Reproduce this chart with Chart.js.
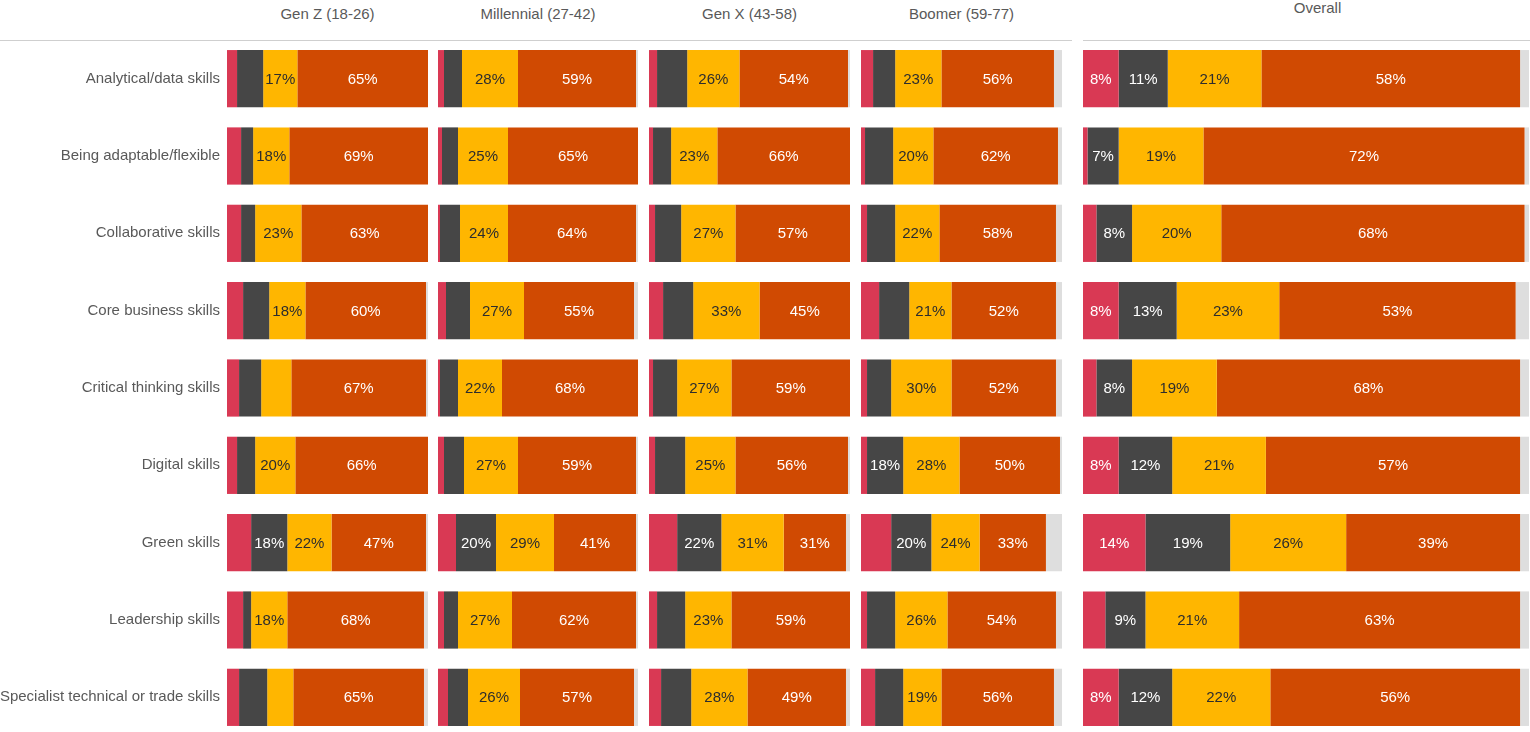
<!DOCTYPE html>
<html lang="en">
<head>
    <meta charset="UTF-8">
    <title>Skills importance by generation</title>
    <style>
        html, body {
            margin: 0;
            padding: 0;
            width: 1530px;
            height: 732px;
            overflow: hidden;
            background: #fff;
            font-family: "Liberation Sans", Arial, sans-serif;
        }
        .head {
            position: absolute;
            font-size: 15px;
            color: #595959;
            text-align: center;
            white-space: nowrap;
        }
        .rule {
            position: absolute;
            top: 40px;
            height: 0;
            border-top: 1.5px solid #cfcfcf;
        }
        .panel {
            position: absolute;
            top: 40px;
            height: 696px;
        }
    </style>
</head>
<body>
    <!-- column headers -->
    <div class="head" style="left:227px;width:201px;top:5px;">Gen Z (18-26)</div>
    <div class="head" style="left:438px;width:200px;top:5px;">Millennial (27-42)</div>
    <div class="head" style="left:649px;width:201px;top:5px;">Gen X (43-58)</div>
    <div class="head" style="left:861px;width:201px;top:5px;">Boomer (59-77)</div>
    <div class="head" style="left:1105px;width:425px;top:-1px;">Overall</div>
    <div class="rule" style="left:0;width:1072px;"></div>
    <div class="rule" style="left:1083px;width:447px;"></div>

    <!-- panels -->
    <div class="panel" style="left:0;width:428px;"><canvas id="genZ"></canvas></div>
    <div class="panel" style="left:438px;width:200px;"><canvas id="millennial"></canvas></div>
    <div class="panel" style="left:649px;width:201px;"><canvas id="genX"></canvas></div>
    <div class="panel" style="left:861px;width:201px;"><canvas id="boomer"></canvas></div>
    <div class="panel" style="left:1083px;width:446px;"><canvas id="overall"></canvas></div>

    <script src="https://cdn.jsdelivr.net/npm/chart.js"></script>
    <script>
        const skills = [
            'Analytical/data skills',
            'Being adaptable/flexible',
            'Collaborative skills',
            'Core business skills',
            'Critical thinking skills',
            'Digital skills',
            'Green skills',
            'Leadership skills',
            'Specialist technical or trade skills'
        ];

        // each row: [red, dark grey, yellow, orange, light grey] in %
        const genZRows = [
            [5, 13, 17, 65, 0],
            [7, 6, 18, 69, 0],
            [7, 7, 23, 63, 0],
            [8, 13, 18, 60, 1],
            [6, 11, 15, 67, 1],
            [5, 9, 20, 66, 0],
            [12, 18, 22, 47, 1],
            [8, 4, 18, 68, 2],
            [6, 14, 13, 65, 2]
        ];
        const millennialRows = [
            [3, 9, 28, 59, 1],
            [2, 8, 25, 65, 0],
            [1, 10, 24, 64, 1],
            [4, 12, 27, 55, 2],
            [1, 9, 22, 68, 0],
            [3, 10, 27, 59, 1],
            [9, 20, 29, 41, 1],
            [3, 7, 27, 62, 1],
            [5, 10, 26, 57, 2]
        ];
        const genXRows = [
            [4, 15, 26, 54, 1],
            [2, 9, 23, 66, 0],
            [3, 13, 27, 57, 0],
            [7, 15, 33, 45, 0],
            [2, 12, 27, 59, 0],
            [3, 15, 25, 56, 1],
            [14, 22, 31, 31, 2],
            [4, 14, 23, 59, 0],
            [6, 15, 28, 49, 2]
        ];
        const boomerRows = [
            [6, 11, 23, 56, 4],
            [2, 14, 20, 62, 2],
            [3, 14, 22, 58, 3],
            [9, 15, 21, 52, 3],
            [3, 12, 30, 52, 3],
            [3, 18, 28, 50, 1],
            [15, 20, 24, 33, 8],
            [3, 14, 26, 54, 3],
            [7, 14, 19, 56, 4]
        ];
        const overallRows = [
            [8, 11, 21, 58, 2],
            [1, 7, 19, 72, 1],
            [3, 8, 20, 68, 1],
            [8, 13, 23, 53, 3],
            [3, 8, 19, 68, 2],
            [8, 12, 21, 57, 2],
            [14, 19, 26, 39, 2],
            [5, 9, 21, 63, 2],
            [8, 12, 22, 56, 2]
        ];

        const segColors = ['#d93954', '#464646', '#ffb600', '#d04a02', '#dedede'];
        const labelColors = ['#ffffff', '#ffffff', '#2d2d2d', '#ffffff', null];
        const FONT = '"Liberation Sans", Arial, sans-serif';

        // draws "NN%" inside each segment when it fits
        const segmentLabels = {
            id: 'segmentLabels',
            afterDatasetsDraw(chart) {
                const ctx = chart.ctx;
                ctx.save();
                ctx.font = '15px ' + FONT;
                ctx.textAlign = 'center';
                ctx.textBaseline = 'middle';
                chart.data.datasets.forEach((ds, di) => {
                    if (!labelColors[di]) return;
                    const meta = chart.getDatasetMeta(di);
                    meta.data.forEach((bar, i) => {
                        const text = ds.data[i] + '%';
                        const w = Math.abs(bar.x - bar.base);
                        if (ctx.measureText(text).width + 3 > w) return;
                        ctx.fillStyle = labelColors[di];
                        ctx.fillText(text, (bar.x + bar.base) / 2, bar.y + 1);
                    });
                });
                ctx.restore();
            }
        };

        const makePanel = (id, rows, showLabels) => {
            const datasets = segColors.map((color, si) => ({
                data: rows.map(r => r[si]),
                backgroundColor: color,
                borderWidth: 0,
                barPercentage: 0.74,
                categoryPercentage: 1
            }));

            new Chart(document.getElementById(id), {
                type: 'bar',
                data: { labels: skills, datasets: datasets },
                options: {
                    indexAxis: 'y',
                    responsive: true,
                    maintainAspectRatio: false,
                    animation: false,
                    layout: { padding: 0 },
                    plugins: {
                        legend: { display: false },
                        tooltip: { enabled: false }
                    },
                    scales: {
                        x: {
                            stacked: true,
                            min: 0,
                            max: 100,
                            display: false
                        },
                        y: {
                            stacked: true,
                            display: showLabels,
                            grid: { display: false, drawTicks: false },
                            border: { display: false },
                            ticks: {
                                color: '#595959',
                                padding: 7,
                                font: { family: FONT, size: 15 }
                            },
                            afterFit: (axis) => {
                                if (!showLabels) return;
                                axis.width = 227;
                                axis.paddingTop = 0;
                                axis.paddingBottom = 0;
                            }
                        }
                    }
                },
                plugins: [segmentLabels]
            });
        };

        makePanel('genZ', genZRows, true);
        makePanel('millennial', millennialRows, false);
        makePanel('genX', genXRows, false);
        makePanel('boomer', boomerRows, false);
        makePanel('overall', overallRows, false);
    </script>
</body>
</html>
